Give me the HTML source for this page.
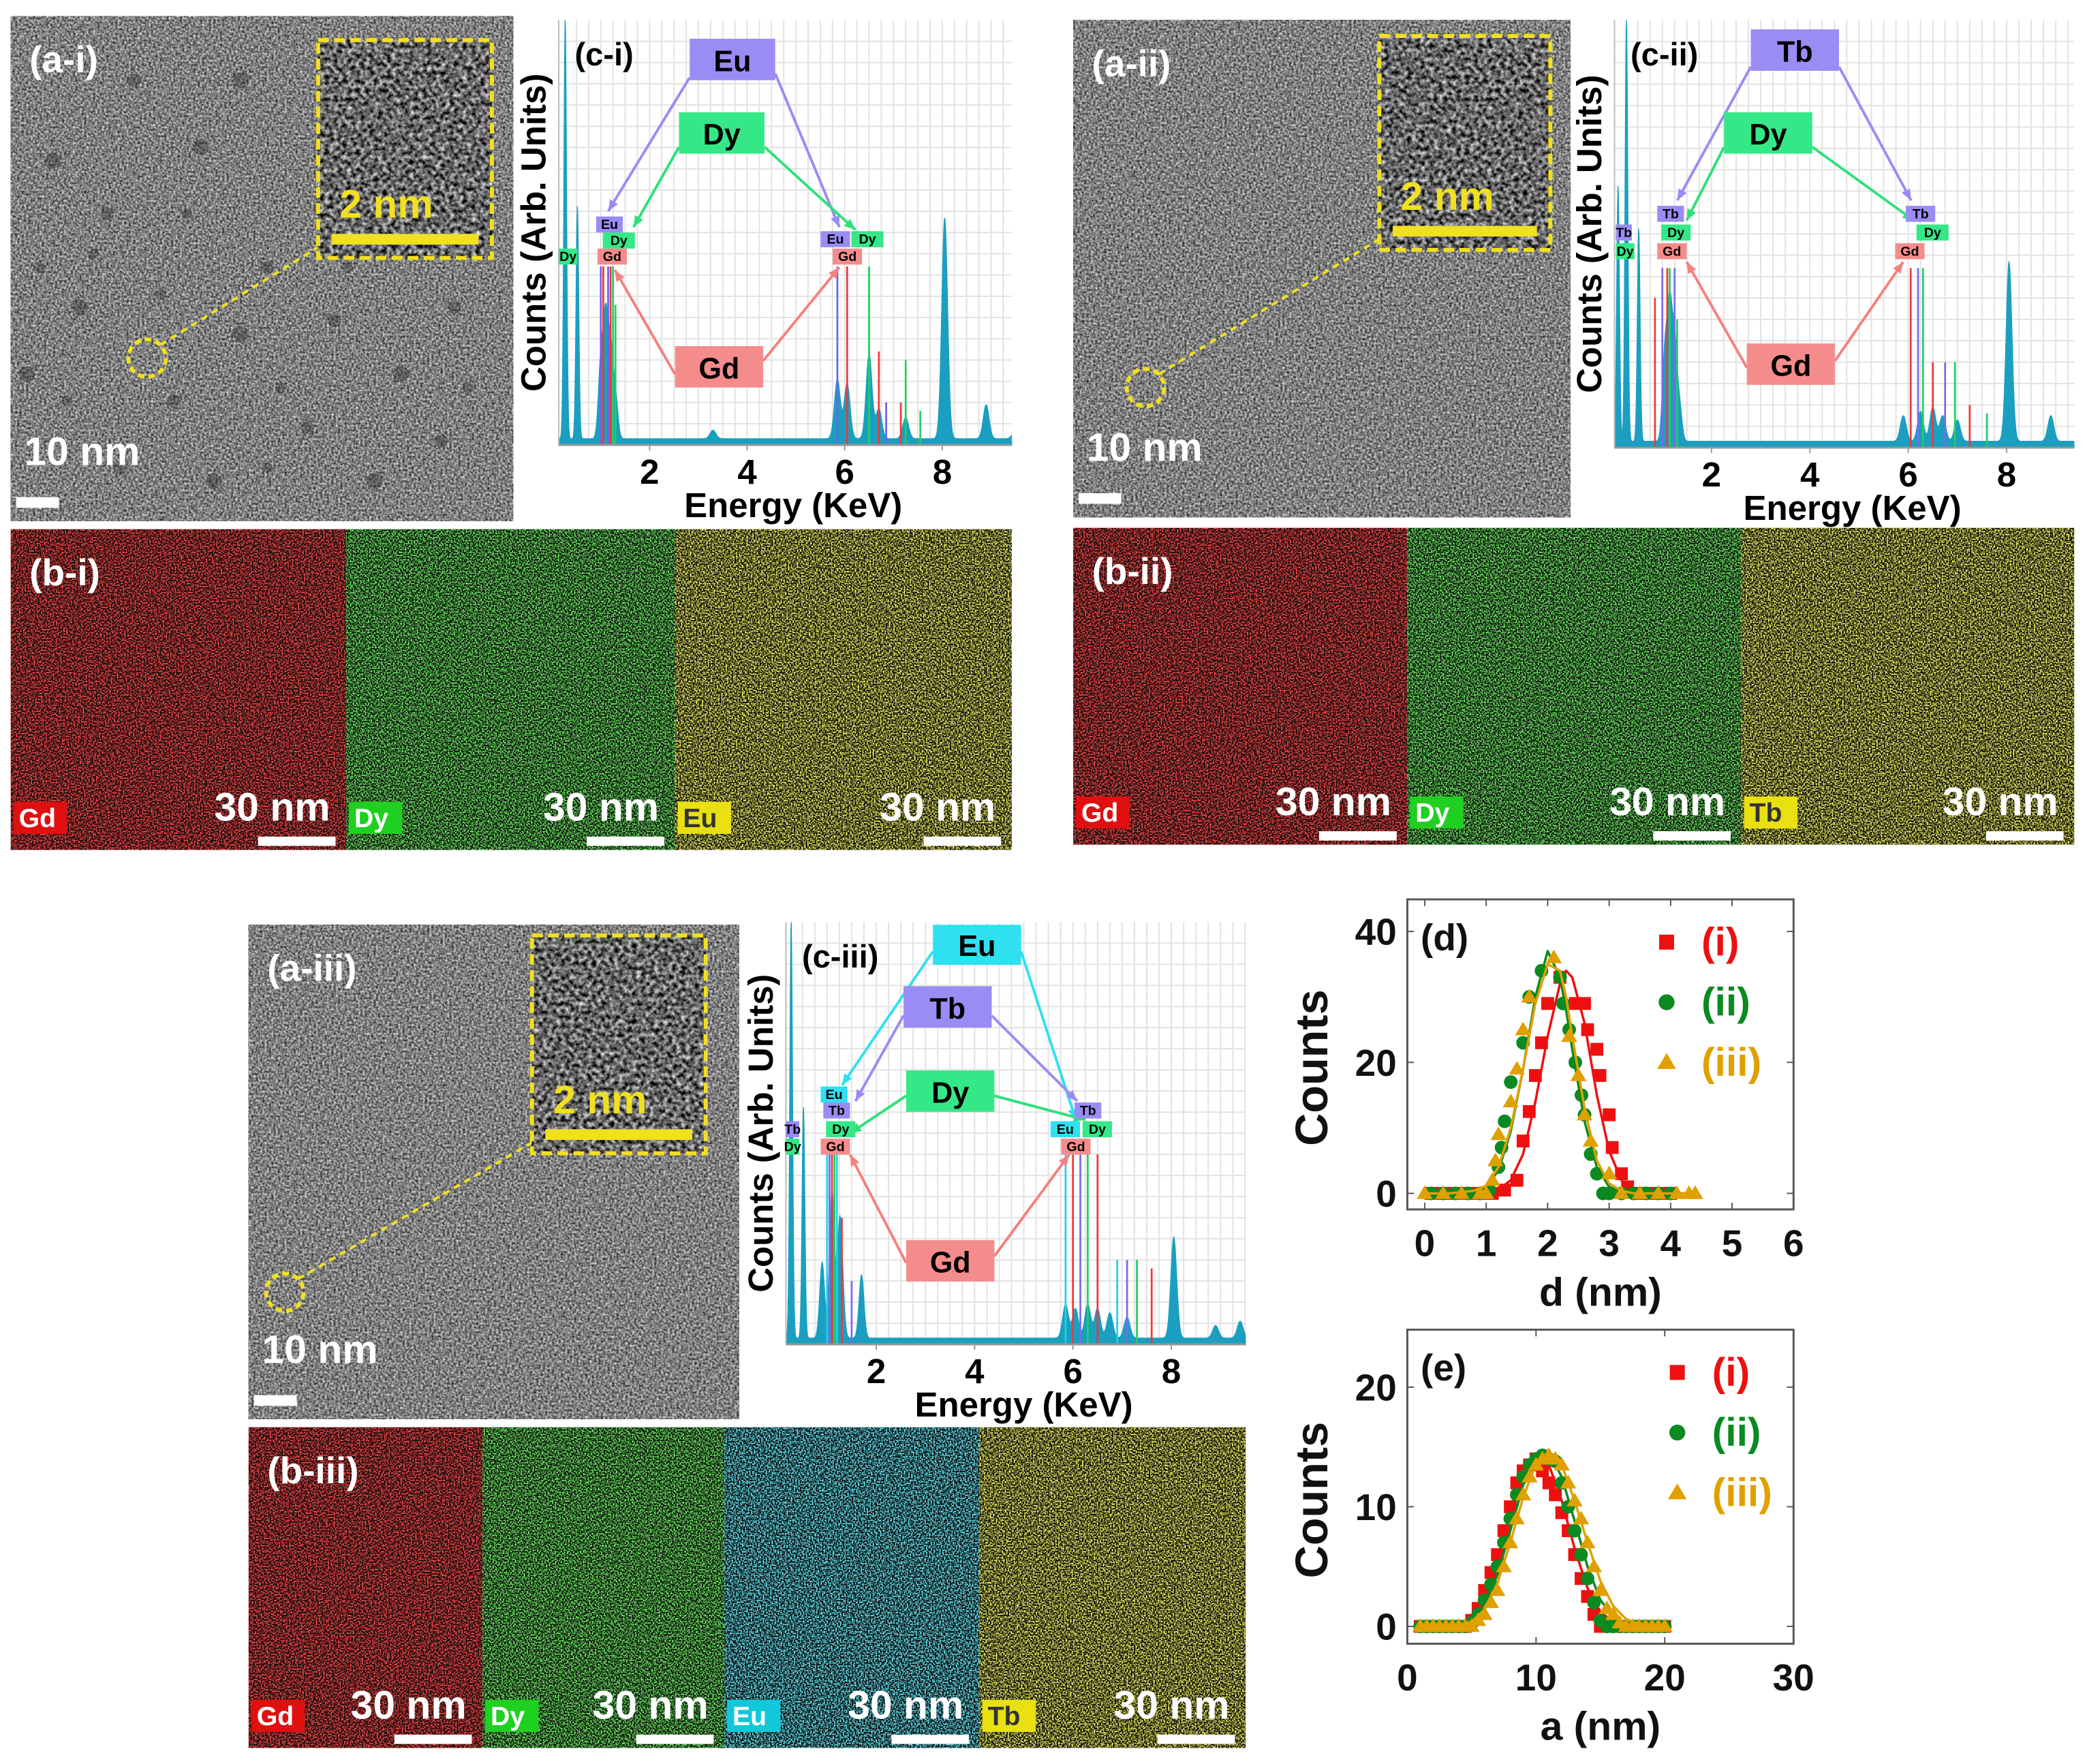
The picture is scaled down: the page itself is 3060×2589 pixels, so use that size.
<!DOCTYPE html>
<html><head><meta charset="utf-8">
<style>
html,body{margin:0;padding:0;background:#fff;}
svg{display:block;}
text{font-family:"Liberation Sans",Arial,sans-serif;font-weight:bold;}
</style></head>
<body>
<svg id="fig" xmlns="http://www.w3.org/2000/svg" width="3060" height="2589" viewBox="0 0 1560 1320">
<defs>
<filter id="tem" x="0" y="0" width="100%" height="100%" color-interpolation-filters="sRGB">
  <feTurbulence type="fractalNoise" baseFrequency="0.6" numOctaves="2" seed="3"/>
  <feColorMatrix type="matrix" values="1.1 0 0 0 -0.05  1.1 0 0 0 -0.05  1.1 0 0 0 -0.05  0 0 0 0 1"/>
</filter>
<filter id="temDark" x="0" y="0" width="100%" height="100%" color-interpolation-filters="sRGB">
  <feTurbulence type="fractalNoise" baseFrequency="0.3" numOctaves="2" seed="7"/>
  <feColorMatrix type="matrix" values="1.5 0 0 0 -0.35  1.5 0 0 0 -0.35  1.5 0 0 0 -0.35  0 0 0 0 1"/>
</filter>
<filter id="mapRed" x="0" y="0" width="100%" height="100%">
  <feTurbulence type="fractalNoise" baseFrequency="0.9" numOctaves="1" seed="11"/>
  <feColorMatrix type="matrix" values="0 0 0 0 0.95  0 0 0 0 0.06  0 0 0 0 0.06  3.6 0 0 0 -1.4"/>
</filter>
<filter id="mapGreen" x="0" y="0" width="100%" height="100%">
  <feTurbulence type="fractalNoise" baseFrequency="0.9" numOctaves="1" seed="21"/>
  <feColorMatrix type="matrix" values="0 0 0 0 0.15  0 0 0 0 0.85  0 0 0 0 0.12  3.6 0 0 0 -1.4"/>
</filter>
<filter id="mapYellow" x="0" y="0" width="100%" height="100%">
  <feTurbulence type="fractalNoise" baseFrequency="0.9" numOctaves="1" seed="31"/>
  <feColorMatrix type="matrix" values="0 0 0 0 0.85  0 0 0 0 0.85  0 0 0 0 0.12  3.6 0 0 0 -1.4"/>
</filter>
<filter id="mapCyan" x="0" y="0" width="100%" height="100%">
  <feTurbulence type="fractalNoise" baseFrequency="0.9" numOctaves="1" seed="41"/>
  <feColorMatrix type="matrix" values="0 0 0 0 0.12  0 0 0 0 0.75  0 0 0 0 0.85  3.6 0 0 0 -1.4"/>
</filter>
</defs>
<rect x="0" y="0" width="1560" height="1320" fill="#fff"/>
</svg>
<script>
const NS='http://www.w3.org/2000/svg';
const svg=document.getElementById('fig');

// ---------- EDS data (energies keV, heights as fraction of plot height) ----------
const ciPeakE=[0.27,0.52,1.0,1.1,1.2,1.3,3.3,5.85,6.05,6.5,6.7,7.25,8.05,8.9,9.5];
const ciPeakH=[1.0,0.55,0.18,0.27,0.2,0.1,0.02,0.14,0.13,0.2,0.07,0.05,0.52,0.08,0.02];
const ciLineE=[1.0,1.05,1.15,1.2,1.25,1.3,5.85,6.05,6.5,6.7,6.85,7.15,7.25,7.55];
const ciLineH=[0.42,0.42,0.42,0.42,0.42,0.33,0.42,0.42,0.42,0.22,0.1,0.1,0.2,0.08];
const ciLineC=['Eu','Gd','Eu','Gd','Dy','Dy','Eu','Gd','Dy','Gd','Eu','Gd','Dy','Dy'];

const ciiPeakE=[0.1,0.27,0.52,1.05,1.15,1.25,1.35,5.9,6.25,6.5,6.7,7.0,8.05,8.9];
const ciiPeakH=[0.6,1.0,0.5,0.2,0.3,0.22,0.08,0.06,0.07,0.08,0.06,0.05,0.42,0.06];
const ciiLineE=[0.85,1.0,1.1,1.15,1.25,1.3,6.05,6.2,6.3,6.5,6.75,6.95,7.25,7.6];
const ciiLineH=[0.35,0.42,0.42,0.42,0.42,0.3,0.42,0.42,0.42,0.2,0.2,0.2,0.1,0.08];
const ciiLineC=['Gd','Tb','Gd','Dy','Tb','Dy','Gd','Tb','Dy','Gd','Tb','Dy','Gd','Dy'];

const ciiiPeakE=[0.27,0.52,0.9,1.1,1.25,1.3,1.7,5.85,6.05,6.3,6.5,6.75,7.1,8.05,8.9,9.4];
const ciiiPeakH=[1.0,0.55,0.18,0.35,0.22,0.1,0.15,0.08,0.07,0.08,0.07,0.06,0.05,0.24,0.03,0.04];
const ciiiLineE=[1.0,1.05,1.1,1.15,1.2,1.3,1.5,5.85,6.0,6.15,6.3,6.5,6.9,7.1,7.3,7.6];
const ciiiLineH=[0.45,0.45,0.45,0.45,0.45,0.3,0.15,0.45,0.45,0.45,0.45,0.45,0.2,0.2,0.2,0.18];
const ciiiLineC=['Eu','Tb','Gd','Dy','Eu','Gd','Tb','Eu','Gd','Tb','Dy','Gd','Eu','Tb','Dy','Gd'];

// ---------- distribution data (d) ----------
const dX_i=[0.1,0.3,0.5,0.7,0.9,1.1,1.3,1.5,1.6,1.7,1.8,1.9,2.0,2.2,2.45,2.6,2.65,2.8,2.85,3.0,3.05,3.2,3.3,3.5,3.7,3.9,4.0];
const dY_i=[0,0,0,0,0,0,0.5,2,8,12.5,18,23,29,33,29,29,25,22,18,12,7,3,1,0,0,0,0];
const dX_ii=[0.1,0.3,0.5,0.7,0.9,1.05,1.2,1.25,1.3,1.4,1.6,1.7,1.9,2.2,2.25,2.35,2.45,2.55,2.6,2.7,2.8,2.9,3.0,3.2,3.4,3.6,3.8,4.0];
const dY_ii=[0,0,0,0,0,0.5,4,7,11,17,23,30,34,33,29,25,20,15,12,6,3,0,0,0,0,0,0,0];
const dX_iii=[0,0.3,0.6,0.9,1.0,1.1,1.15,1.2,1.4,1.5,1.6,1.7,2.1,2.35,2.5,2.6,2.7,3.0,3.2,3.5,3.8,4.1,4.3,4.4];
const dY_iii=[0,0,0,0,0,2,5,9,14,19,25,30,36,24,18,12,8,3,0,0,0,0,0,0];
const dFitX=[0,0.4,0.8,1.0,1.2,1.4,1.6,1.8,2.0,2.2,2.3,2.4,2.6,2.8,3.0,3.2,3.4,3.6,4.0,4.4];
const dFit_i=[0,0,0,0.2,0.6,2,6,14,24,32,34,33,26,15,6.5,2,0.5,0.1,0,0];
const dFit_ii=[0,0,0.3,1,3.5,9.5,19,30,37,33,28,22,11,4,1,0.2,0,0,0,0];
const dFit_iii=[0,0,0.4,1.2,4,10,19,29,35,34,30,24,13,5,1.5,0.4,0,0,0,0];

// ---------- distribution data (e) ----------
const eX=[1,1.5,2,2.5,3,3.5,4,4.5,5,5.5,6,6.5,7,7.5,8,8.5,9,9.5,10,10.5,11,11.5,12,12.5,13,13.5,14,14.5,15,15.5,16,16.5,17,17.5,18,18.5,19,19.5,20];
const eY_i=[0,0,0,0,0,0,0,0,0.5,1.5,3,4.5,6,8,10,12,13,13.5,14,13,12,11,9.5,8,6,4,2.5,1,0,0,0,0,0,0,0,0,0,0,0];
const eY_ii=[0,0,0,0,0,0,0,0,0.3,1,2.2,3.5,5,7,9,11,12.5,13.5,14,14.3,14,13.8,12,10,8,6,4,2,0.5,0,0,0,0,0,0,0,0,0,0];
const eY_iii=[0,0,0,0,0,0,0,0,0,0.5,1,2,3,5,7,9,11,12.5,13.5,14,14.3,14,13.5,12,10.5,9,7,5,3,1.5,1,0.3,0,0,0,0,0,0,0];
const eFitX=[1,3,4,5,6,7,8,9,10,11,12,13,14,15,16,17,18,20];
const eFit_i=[0,0,0.2,0.8,2.5,5.5,9,12.5,14.2,13.5,10.5,6.5,3.2,1.2,0.4,0.1,0,0];
const eFit_ii=[0,0,0.1,0.5,1.8,4.3,8,11.8,14.2,14.5,12.5,8.8,5,2.2,0.8,0.2,0,0];
const eFit_iii=[0,0,0.1,0.4,1.4,3.6,7,10.8,13.6,14.6,13.5,10.5,7,3.8,1.7,0.6,0.2,0];

function mk(tag,attrs,name,parent){
  const el=document.createElementNS(NS,tag);
  for(const k in attrs) el.setAttribute(k,attrs[k]);
  
  
  (parent||svg).appendChild(el);
  return el;
}
function txt(x,y,s,size,fill,name,parent,anchor,extra){
  const a={x:x,y:y,'font-size':size,fill:fill,'text-anchor':anchor||'start'};
  if(extra) for(const k in extra) a[k]=extra[k];
  const t=mk('text',a,name,parent); t.textContent=s; return t;
}

// ---------- TEM panels ----------
function tem(x,y,w,h,label,name,circ,inset,dots){
  const g=mk('g',{},name);
  mk('rect',{x:x,y:y,width:w,height:h,fill:'#888',filter:'url(#tem)'},'tem-image',g);
  (dots||[]).forEach(d=>mk('circle',{cx:d[0],cy:d[1],r:d[2],fill:'#222','fill-opacity':0.35},'nanoparticle',g));
  txt(x+14,y+42,label,28,'#fff','panel-label',g);
  txt(x+10,y+h-42,'10 nm',30,'#fff','scale-text',g);
  mk('rect',{x:x+4,y:y+h-18,width:32,height:8,fill:'#fff'},'scale-bar',g);
  mk('circle',{cx:circ[0],cy:circ[1],r:14,fill:'none',stroke:'#f0e020','stroke-width':3,'stroke-dasharray':'5 3'},'highlight-circle',g);
  mk('line',{x1:circ[0]+10,y1:circ[1]-10,x2:inset[0],y2:inset[1]+inset[3]-8,stroke:'#f0e020','stroke-width':2,'stroke-dasharray':'5 4'},'zoom-connector',g);
  mk('rect',{x:inset[0],y:inset[1],width:inset[2],height:inset[3],fill:'#555',filter:'url(#temDark)'},'hrtem-inset',g);
  mk('rect',{x:inset[0],y:inset[1],width:inset[2],height:inset[3],fill:'none',stroke:'#f0e020','stroke-width':3,'stroke-dasharray':'8 4'},'inset-border',g);
  txt(inset[0]+16,inset[1]+inset[3]-30,'2 nm',30,'#f0e020','inset-scale-text',g);
  mk('rect',{x:inset[0]+10,y:inset[1]+inset[3]-18,width:inset[2]-20,height:8,fill:'#f0e020'},'inset-scale-bar',g);
}
tem(8,12,376,378,'(a-i)','tem-panel-a-i',[110,268],[238,30,130,163],
 [[40,120,6],[80,160,5],[150,110,6],[200,200,5],[60,230,6],[130,300,5],[180,250,6],[230,320,5],[300,280,6],[340,230,5],[280,360,6],[90,350,5],[160,360,6],[330,330,5],[20,280,6],[250,240,5],[100,60,5],[180,60,6],[50,300,4],[70,190,4],[120,220,4],[210,290,4],[260,200,4],[310,180,4],[350,290,4],[200,350,4],[140,160,4],[30,200,4]]);
tem(803,15,372,372,'(a-ii)','tem-panel-a-ii',[857,290],[1032,27,128,160]);
tem(186,692,367,370,'(a-iii)','tem-panel-a-iii',[213,967],[398,700,130,163]);

// ---------- elemental maps ----------
function maps(x,y,h,widths,els,label,name){
  const g=mk('g',{},name);
  let cx=x;
  widths.forEach((w,i)=>{
    const e=els[i];
    const f={Gd:'mapRed',Dy:'mapGreen',Eu:e.cyan?'mapCyan':'mapYellow',Tb:'mapYellow'}[e.el];
    const tagC={mapRed:'#e01010',mapGreen:'#20d020',mapYellow:'#e8e010',mapCyan:'#10c8d8'}[f];
    mk('rect',{x:cx,y:y,width:w,height:h,fill:'#0a0a0a'},'map-background-'+e.el.toLowerCase(),g);
    mk('rect',{x:cx,y:y,width:w,height:h,fill:'#000',filter:'url(#'+f+')'},'map-'+e.el.toLowerCase(),g);
    mk('rect',{x:cx+2,y:y+h-36,width:40,height:24,fill:tagC},'map-tag',g);
    txt(cx+6,y+h-17,e.el,20,f==='mapYellow'?'#333':'#fff','map-tag-text',g,'start',{'font-weight':'normal'});
    txt(cx+w-12,y+h-22,'30 nm',30,'#fff','map-scale-text',g,'end');
    mk('rect',{x:cx+w-66,y:y+h-10,width:58,height:7,fill:'#fff'},'map-scale-bar',g);
    cx+=w;
  });
  txt(x+14,y+42,label,28,'#fff','panel-label',g);
}
maps(8,396,240,[251,246,252],[{el:'Gd'},{el:'Dy'},{el:'Eu'}],'(b-i)','map-panel-b-i');
maps(803,395,237,[250,250,249],[{el:'Gd'},{el:'Dy'},{el:'Tb'}],'(b-ii)','map-panel-b-ii');
maps(186,1068,240,[175,181,191,199],[{el:'Gd'},{el:'Dy'},{el:'Eu',cyan:true},{el:'Tb'}],'(b-iii)','map-panel-b-iii');

// ---------- EDS charts ----------
function eds(c){
  const g=mk('g',{},c.name);
  const sx=e=>c.e0+e*c.k;
  const sy=f=>c.bottom-f*(c.bottom-c.top);
  for(let e=0.5;sx(e)<c.right;e+=0.25) mk('line',{x1:sx(e),y1:c.top,x2:sx(e),y2:c.bottom,stroke:'#e2e2e2','stroke-width':1},'grid-line-x',g);
  for(let i=1;i<20;i++){const yy=c.top+i*(c.bottom-c.top)/20; mk('line',{x1:c.left,y1:yy,x2:c.right,y2:yy,stroke:'#e2e2e2','stroke-width':1},'grid-line-y',g);}
  let d='M'+c.left+','+c.bottom;
  const eStart=(c.left-c.e0)/c.k, eEnd=(c.right-c.e0)/c.k;
  for(let e=eStart;e<=eEnd;e+=0.01){
    let v=0.015;
    c.pe.forEach((p,i)=>{const w=p<0.7?0.04:(p<2?0.07:0.085); v+=c.ph[i]*Math.exp(-Math.pow((e-p)/w,2));});
    d+=' L'+sx(e).toFixed(2)+','+sy(Math.min(v,1)).toFixed(2);
  }
  d+=' L'+c.right+','+c.bottom+' Z';
  mk('path',{d:d,fill:'#1b9fc0',stroke:'#1b9fc0','stroke-width':0.6},'spectrum',g);
  c.le.forEach((e,i)=>{
    const col={Eu:c.euColor||'#7060ee',Dy:'#20d060',Gd:'#f03838',Tb:'#7a6af0'}[c.lc[i]];
    mk('line',{x1:sx(e),y1:c.bottom,x2:sx(e),y2:sy(c.lh[i]),stroke:col,'stroke-width':1.4},'line-'+c.lc[i].toLowerCase(),g);
  });
  mk('line',{x1:c.left,y1:c.bottom,x2:c.right,y2:c.bottom,stroke:'#999','stroke-width':1.5},'x-axis',g);
  mk('line',{x1:c.left,y1:c.top,x2:c.left,y2:c.bottom,stroke:'#bbb','stroke-width':1},'y-axis',g);
  [2,4,6,8].forEach(t=>{
    mk('line',{x1:sx(t),y1:c.bottom,x2:sx(t),y2:c.bottom+4,stroke:'#999'},'x-tick',g);
    txt(sx(t),c.bottom+29,String(t),26,'#000','x-tick-label',g,'middle');
  });
  txt((c.left+c.right)/2+6,c.bottom+54,'Energy (KeV)',26,'#000','x-axis-title',g,'middle');
  txt(0,0,'Counts (Arb. Units)',26,'#000','y-axis-title',g,'middle',{transform:'translate('+(c.left-10)+','+((c.top+c.bottom)/2)+') rotate(-90)'});
  txt(c.left+12,c.top+34,c.label,24,'#000','panel-label',g);
  c.arrows.forEach(a=>{
    mk('line',{x1:a[0],y1:a[1],x2:a[2],y2:a[3],stroke:a[4],'stroke-width':2},'callout-arrow',g);
    const ang=Math.atan2(a[3]-a[1],a[2]-a[0]);
    const p1=[a[2]-9*Math.cos(ang-0.4),a[3]-9*Math.sin(ang-0.4)],p2=[a[2]-9*Math.cos(ang+0.4),a[3]-9*Math.sin(ang+0.4)];
    mk('polygon',{points:a[2]+','+a[3]+' '+p1.join(',')+' '+p2.join(','),fill:a[4]},'arrow-head',g);
  });
  c.boxes.forEach(b=>{
    mk('rect',{x:b[0],y:b[1],width:b[2],height:b[3],fill:b[5]},'element-label-box',g);
    txt(b[0]+b[2]/2,b[1]+b[3]*0.78,b[4],b[3]>20?22:10,'#000','element-label',g,'middle',{'font-weight':b[3]>20?'bold':'normal'});
  });
}
const P='#9a8cf5',G='#35e887',R='#f58c8c',C='#2fe0f0';
eds({name:'eds-chart-c-i',label:'(c-i)',e0:413,k:36.5,left:418,right:757,top:15,bottom:333,pe:ciPeakE,ph:ciPeakH,le:ciLineE,lh:ciLineH,lc:ciLineC,
 arrows:[[516,58,455,158,'#9a8cf5'],[580,55,628,170,'#9a8cf5'],[508,110,474,170,'#2fe07a'],[572,110,640,172,'#2fe07a'],[505,280,460,202,'#f58080'],[571,270,628,200,'#f58080']],
 boxes:[[516,29,64,31,'Eu',P],[508,84,64,31,'Dy',G],[505,259,66,31,'Gd',R],[446,162,20,12,'Eu',P],[451,174,24,12,'Dy',G],[447,186,22,12,'Gd',R],[418,186,14,12,'Dy',G],[614,173,22,12,'Eu',P],[637,173,24,12,'Dy',G],[623,186,22,12,'Gd',R]]});
eds({name:'eds-chart-c-ii',label:'(c-ii)',e0:1207,k:36.8,left:1208,right:1552,top:15,bottom:335,pe:ciiPeakE,ph:ciiPeakH,le:ciiLineE,lh:ciiLineH,lc:ciiLineC,
 arrows:[[1310,50,1255,150,'#9a8cf5'],[1376,50,1430,150,'#9a8cf5'],[1290,110,1262,165,'#2fe07a'],[1356,110,1432,165,'#2fe07a'],[1307,275,1262,196,'#f58080'],[1373,270,1424,196,'#f58080']],
 boxes:[[1310,22,66,31,'Tb',P],[1290,84,66,31,'Dy',G],[1307,257,66,31,'Gd',R],[1240,154,20,12,'Tb',P],[1243,168,22,12,'Dy',G],[1240,182,22,12,'Gd',R],[1209,168,12,12,'Tb',P],[1209,182,14,12,'Dy',G],[1426,154,22,12,'Tb',P],[1434,168,24,12,'Dy',G],[1418,182,22,12,'Gd',R]]});
eds({name:'eds-chart-c-iii',label:'(c-iii)',e0:582,k:36.8,left:588,right:932,top:690,bottom:1006,euColor:'#20d0e8',pe:ciiiPeakE,ph:ciiiPeakH,le:ciiiLineE,lh:ciiiLineH,lc:ciiiLineC,
 arrows:[[698,712,630,812,C],[764,712,805,838,C],[676,760,640,824,'#9a8cf5'],[742,760,806,824,'#9a8cf5'],[678,820,636,848,'#2fe07a'],[744,820,812,838,'#2fe07a'],[678,945,636,864,'#f58080'],[744,940,800,864,'#f58080']],
 boxes:[[698,692,66,30,'Eu',C],[676,738,66,31,'Tb',P],[678,801,66,31,'Dy',G],[678,928,66,31,'Gd',R],[614,813,20,12,'Eu',C],[616,825,20,12,'Tb',P],[618,839,22,12,'Dy',G],[614,852,22,12,'Gd',R],[588,839,10,12,'Tb',P],[588,852,10,12,'Dy',G],[804,825,20,12,'Tb',P],[786,839,22,12,'Eu',C],[810,839,22,12,'Dy',G],[794,852,22,12,'Gd',R]]});

// ---------- size distribution charts ----------
function dist(c){
  const g=mk('g',{},c.name);
  const sx=v=>c.x0+v*c.kx, sy=v=>c.y0-v*c.ky;
  mk('rect',{x:c.box[0],y:c.box[1],width:c.box[2]-c.box[0],height:c.box[3]-c.box[1],fill:'none',stroke:'#555','stroke-width':1.5},'plot-frame',g);
  c.xt.forEach((t,i)=>{
    mk('line',{x1:sx(t),y1:c.box[3],x2:sx(t),y2:c.box[3]-5,stroke:'#555'},'x-tick',g);
    mk('line',{x1:sx(t),y1:c.box[1],x2:sx(t),y2:c.box[1]+5,stroke:'#555'},'x-tick-top',g);
    txt(sx(t),c.box[3]+35,c.xtl[i],28,'#111','x-tick-label',g,'middle');
  });
  c.yt.forEach((t,i)=>{
    mk('line',{x1:c.box[0],y1:sy(t),x2:c.box[0]+5,y2:sy(t),stroke:'#555'},'y-tick',g);
    mk('line',{x1:c.box[2],y1:sy(t),x2:c.box[2]-5,y2:sy(t),stroke:'#555'},'y-tick-right',g);
    txt(c.box[0]-8,sy(t)+10,c.ytl[i],28,'#111','y-tick-label',g,'end');
  });
  txt((c.box[0]+c.box[2])/2,c.box[3]+72,c.xlabel,30,'#111','x-axis-title',g,'middle');
  txt(0,0,'Counts',34,'#111','y-axis-title',g,'middle',{transform:'translate('+(c.box[0]-60)+','+((c.box[1]+c.box[3])/2+10)+') rotate(-90)'});
  txt(c.box[0]+10,c.box[1]+38,c.label,28,'#111','panel-label',g);
  const cols=['#ee1010','#0a8a20','#e0a000'], names=['(i)','(ii)','(iii)'];
  c.series.forEach((s,si)=>{
    let d='';
    s.fx.forEach((x,i)=>{d+=(i?' L':'M')+sx(x).toFixed(2)+','+sy(s.fy[i]).toFixed(2);});
    mk('path',{d:d,fill:'none',stroke:cols[si],'stroke-width':1.8,'stroke-linejoin':'round'},'fit-curve-'+names[si].replace(/[()]/g,''),g);
    s.x.forEach((x,i)=>marker(g,si,sx(x),sy(s.y[i]),cols[si],6));
    const ly=c.box[1]+40+si*45;
    marker(g,si,c.legX,ly-8,cols[si],7);
    txt(c.legX+26,ly+2,names[si],30,cols[si],'legend-entry',g);
  });
}
function marker(g,si,x,y,col,r){
  if(si===0) mk('rect',{x:x-r*0.8,y:y-r*0.8,width:r*1.6,height:r*1.6,fill:col},'point-square',g);
  else if(si===1) mk('circle',{cx:x,cy:y,r:r*0.85,fill:col},'point-circle',g);
  else mk('polygon',{points:x+','+(y-r)+' '+(x-r)+','+(y+r*0.7)+' '+(x+r)+','+(y+r*0.7),fill:col},'point-triangle',g);
}
dist({name:'size-distribution-d',label:'(d)',xlabel:'d (nm)',x0:1066,kx:46,y0:893,ky:4.9,box:[1053,673,1342,905],
 xt:[0,1,2,3,4,5,6],xtl:['0','1','2','3','4','5','6'],yt:[0,20,40],ytl:['0','20','40'],legX:1247,
 series:[{x:dX_i,y:dY_i,fx:dFitX,fy:dFit_i},{x:dX_ii,y:dY_ii,fx:dFitX,fy:dFit_ii},{x:dX_iii,y:dY_iii,fx:dFitX,fy:dFit_iii}]});
dist({name:'size-distribution-e',label:'(e)',xlabel:'a (nm)',x0:1053,kx:9.63,y0:1217,ky:8.95,box:[1053,995,1342,1230],
 xt:[0,10,20,30],xtl:['0','10','20','30'],yt:[0,10,20],ytl:['0','10','20'],legX:1255,
 series:[{x:eX,y:eY_i,fx:eFitX,fy:eFit_i},{x:eX,y:eY_ii,fx:eFitX,fy:eFit_ii},{x:eX,y:eY_iii,fx:eFitX,fy:eFit_iii}]});
</script>
</body></html>
